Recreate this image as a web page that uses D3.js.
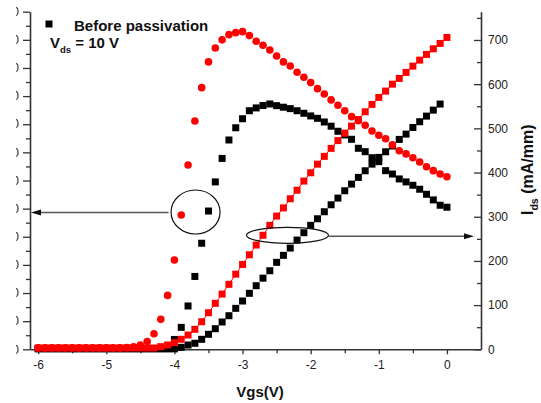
<!DOCTYPE html>
<html>
<head>
<meta charset="utf-8">
<script src="https://cdn.jsdelivr.net/npm/d3@7"></script>
<style>
html,body{margin:0;padding:0;background:#fff;}
svg{display:block;font-family:Arial,"Liberation Sans",sans-serif;}
</style>
</head>
<body>
<svg id="chart" width="541" height="403"></svg>
<script>
// ---- data ----
const vgs = [-6.0,-5.9,-5.8,-5.7,-5.6,-5.5,-5.4,-5.3,-5.2,-5.1,
  -5.0,-4.9,-4.8,-4.7,-4.6,-4.5,-4.4,-4.3,-4.2,-4.1,
  -4.0,-3.9,-3.8,-3.7,-3.6,-3.5,-3.4,-3.3,-3.2,-3.1,
  -3.0,-2.9,-2.8,-2.7,-2.6,-2.5,-2.4,-2.3,-2.2,-2.1,
  -2.0,-1.9,-1.8,-1.7,-1.6,-1.5,-1.4,-1.3,-1.2,-1.1,
  -1.0,-0.9,-0.8,-0.7,-0.6,-0.5,-0.4,-0.3,-0.2,-0.1,0.0];

// transconductance (left axis, clipped units)
const gmAfter = [1,1,1,1,1,1,1,1,1,1,
  1,1,1,1.2,1.8,3.1,5.5,11.1,21.3,38.3,
  63.5,95.5,131,162.3,186,204.3,214.2,220,223.7,225.1,
  225.8,223,219,216.1,212.8,208.5,204.3,201.4,197,193.4,
  189.6,185.3,181.5,177.3,173.5,169.6,165.4,162.5,159.3,155.2,
  152.2,149.7,145.3,141.2,138.9,136.2,133.2,129.8,127,124.6,122.7];
const gmBefore = [0.5,0.5,0.5,0.5,0.5,0.5,0.5,0.5,0.5,0.5,
  0.5,0.5,0.5,0.5,0.5,0.5,0.5,0.5,0.5,0.5,
  7.0,15.6,30.8,51.8,75.4,98.3,119,135.7,148.8,157.5,
  163.9,169.6,171.6,173.3,174.4,173.2,172.1,171.1,169.6,167.8,
  165.9,164.2,161.6,158.6,155,152.4,149.3,142.9,140.5,136.2,
  133.4,127,124.6,121.1,119,116.6,113.8,110.2,106.2,102.4,101];

// drain current Ids (mA/mm, right axis)
const idsAfter = [3,3,3,3,3,3,3,3,3,3,
  3,3,3,3,3,3,3,3,6,9.7,
  15,22.6,32.3,45.2,62.4,82.8,104,125,147,170,
  192,214,236,258,280.5,301.5,320,340.7,360,380.7,
  399.5,419,436.6,454.7,472.3,489.3,505,520,537.5,554.2,
  570,584.3,600,613,626.6,640.8,654.4,667.3,680,692.2,705.7];
const idsBefore = [1,1,1,1,1,1,1,1,1,1,
  1,1,1,1,1,1,1,1,1,1,
  1,4.5,9.7,13.6,22.6,34,46.6,61.8,76,92.7,
  109.3,126.7,143.9,161,177.8,196.8,212.6,229.1,247.2,263.8,
  280.5,295.4,311.3,327.1,342.2,358.8,373.9,389,404,419,
  434.3,447,460,475,487,502,515,527.7,541.3,555,null];

const xTicks = [-6,-5,-4,-3,-2,-1,0];
const xMinor = [-5.5,-4.5,-3.5,-2.5,-1.5,-0.5];
const rightTicks = [0,100,200,300,400,500,600,700];
const rightMinor = [50,150,250,350,450,550,650,750];
const leftTicks = [0,20,40,60,80,100,120,140,160,180,200,220,240];
const leftMinor = [10,30,50,70,90,110,130,150,170,190,210,230];

// annotations in data units
const circleAnn = {x:-3.69, gm:97.6};
const ellipseAnn = {x:-2.34, ids:258};

// ---- drawing ----
const svg = d3.select("#chart");
const x = d3.scaleLinear().domain([-6.12, 0.5]).range([30, 481]);
const yR = d3.scaleLinear().domain([0, 764]).range([349.3, 11.7]);
const yL = d3.scaleLinear().domain([0, 240]).range([349.3, 11.7]);

const axisColor = "#333";
const defs = svg.append("defs");
defs.append("clipPath").attr("id","leftclip").append("rect")
  .attr("x",16).attr("y",0).attr("width",30).attr("height",403);

function styleAxis(g){
  g.select(".domain").attr("stroke",axisColor).attr("stroke-width",1.6);
  g.selectAll(".tick line").attr("stroke",axisColor).attr("stroke-width",1.3);
  g.selectAll("text").attr("fill","#222").attr("font-size",12)
    .attr("font-family","Arial, 'Liberation Sans', sans-serif");
}

// bottom axis
const gx = svg.append("g").attr("transform","translate(0,349.3)")
  .call(d3.axisBottom(x).tickValues(xTicks).tickSize(5).tickSizeOuter(0).tickPadding(6)
    .tickFormat(d => d === 0 ? "0" : String(d)));
styleAxis(gx);
const gxm = svg.append("g").attr("transform","translate(0,349.3)")
  .call(d3.axisBottom(x).tickValues(xMinor).tickSize(4).tickSizeOuter(0).tickFormat(""));
gxm.select(".domain").remove();
styleAxis(gxm);

// right axis (ticks inward)
const gr = svg.append("g").attr("transform","translate(481,0)")
  .call(d3.axisRight(yR).tickValues(rightTicks).tickSize(-7).tickSizeOuter(0).tickPadding(7));
styleAxis(gr);
const grm = svg.append("g").attr("transform","translate(481,0)")
  .call(d3.axisRight(yR).tickValues(rightMinor).tickSize(-4).tickSizeOuter(0).tickFormat(""));
grm.select(".domain").remove();
styleAxis(grm);

// left axis (ticks outward, labels clipped by the image edge)
const gl = svg.append("g").attr("transform","translate(30,0)")
  .call(d3.axisLeft(yL).tickValues(leftTicks).tickSize(7).tickSizeOuter(0).tickFormat(""));
styleAxis(gl);
const glLabels = svg.append("g").attr("clip-path","url(#leftclip)");
glLabels.selectAll("text").data(leftTicks).join("text")
  .attr("x",19).attr("y",d=>yL(d)).attr("dy","0.35em").attr("text-anchor","end")
  .attr("font-size",12).attr("fill","#222").text(d=>d3.format("d")(d));
const glm = svg.append("g").attr("transform","translate(30,0)")
  .call(d3.axisLeft(yL).tickValues(leftMinor).tickSize(4).tickSizeOuter(0).tickFormat(""));
glm.select(".domain").remove();
styleAxis(glm);

// series
const plot = svg.append("g");
const sq = 7;
const dBlackIds = vgs.map((v,i)=>({v, y: idsBefore[i]})).filter(d=>d.y!=null);
const dRedIds = vgs.map((v,i)=>({v, y: idsAfter[i]}));
const dBlackGm = vgs.map((v,i)=>({v, y: gmBefore[i]}));
const dRedGm = vgs.map((v,i)=>({v, y: gmAfter[i]}));

plot.append("g").selectAll("rect").data(dBlackIds).join("rect")
  .attr("x",d=>x(d.v)-sq/2).attr("y",d=>yR(d.y)-sq/2).attr("width",sq).attr("height",sq)
  .attr("fill","#000");
plot.append("g").selectAll("rect").data(dBlackGm).join("rect")
  .attr("x",d=>x(d.v)-sq/2).attr("y",d=>yL(d.y)-sq/2).attr("width",sq).attr("height",sq)
  .attr("fill","#000");
plot.append("g").selectAll("circle").data(dRedGm).join("circle")
  .attr("cx",d=>x(d.v)).attr("cy",d=>yL(d.y)).attr("r",3.8)
  .attr("fill","#ff0000");
plot.append("path").datum(dRedIds)
  .attr("d", d3.line().x(d=>x(d.v)).y(d=>yR(d.y)))
  .attr("fill","none").attr("stroke","#ff0000").attr("stroke-width",1);
plot.append("g").selectAll("rect").data(dRedIds).join("rect")
  .attr("x",d=>x(d.v)-sq/2).attr("y",d=>yR(d.y)-sq/2).attr("width",sq).attr("height",sq)
  .attr("fill","#ff0000");

// annotations
const c1x = x(circleAnn.x), c1y = yL(circleAnn.gm);
svg.append("ellipse").attr("cx",c1x).attr("cy",c1y).attr("rx",24.5).attr("ry",22)
  .attr("fill","none").attr("stroke","#111").attr("stroke-width",1.2);
svg.append("line").attr("x1",c1x-27).attr("y1",c1y+0.5).attr("x2",40).attr("y2",c1y+0.5)
  .attr("stroke","#555").attr("stroke-width",1.6);
svg.append("path").attr("d",`M31,${c1y+0.5} L41,${c1y-2.5} L41,${c1y+3.5} Z`).attr("fill","#111");

const e2x = x(ellipseAnn.x), e2y = yR(ellipseAnn.ids);
svg.append("ellipse").attr("cx",e2x).attr("cy",e2y).attr("rx",41).attr("ry",8)
  .attr("fill","none").attr("stroke","#111").attr("stroke-width",1.2);
svg.append("line").attr("x1",e2x+41).attr("y1",e2y+1).attr("x2",464).attr("y2",e2y+1)
  .attr("stroke","#555").attr("stroke-width",1.4);
svg.append("path").attr("d",`M474,${e2y+1} L464,${e2y-2} L464,${e2y+4} Z`).attr("fill","#111");

// legend
svg.append("rect").attr("x",45.5).attr("y",20.5).attr("width",7).attr("height",7).attr("fill","#000");
svg.append("text").attr("x",74).attr("y",30.5).attr("font-size",15).attr("font-weight","bold")
  .attr("fill","#111").text("Before passivation");
const vt = svg.append("text").attr("x",50).attr("y",48).attr("font-size",15)
  .attr("font-weight","bold").attr("fill","#111");
vt.append("tspan").text("V");
vt.append("tspan").attr("font-size",9.5).attr("dy",5).text("ds");
vt.append("tspan").attr("dy",-5).text(" = 10 V");

// axis titles
svg.append("text").attr("x",260).attr("y",397).attr("text-anchor","middle")
  .attr("font-size",15).attr("font-weight","bold").attr("fill","#111").text("Vgs(V)");
const yt = svg.append("text").attr("transform","translate(533,215) rotate(-90)")
  .attr("font-size",16).attr("font-weight","bold").attr("fill","#111");
yt.append("tspan").text("I");
yt.append("tspan").attr("font-size",10.5).attr("dy",5).text("ds");
yt.append("tspan").attr("dy",-5).text(" (mA/mm)");
</script>
</body>
</html>
